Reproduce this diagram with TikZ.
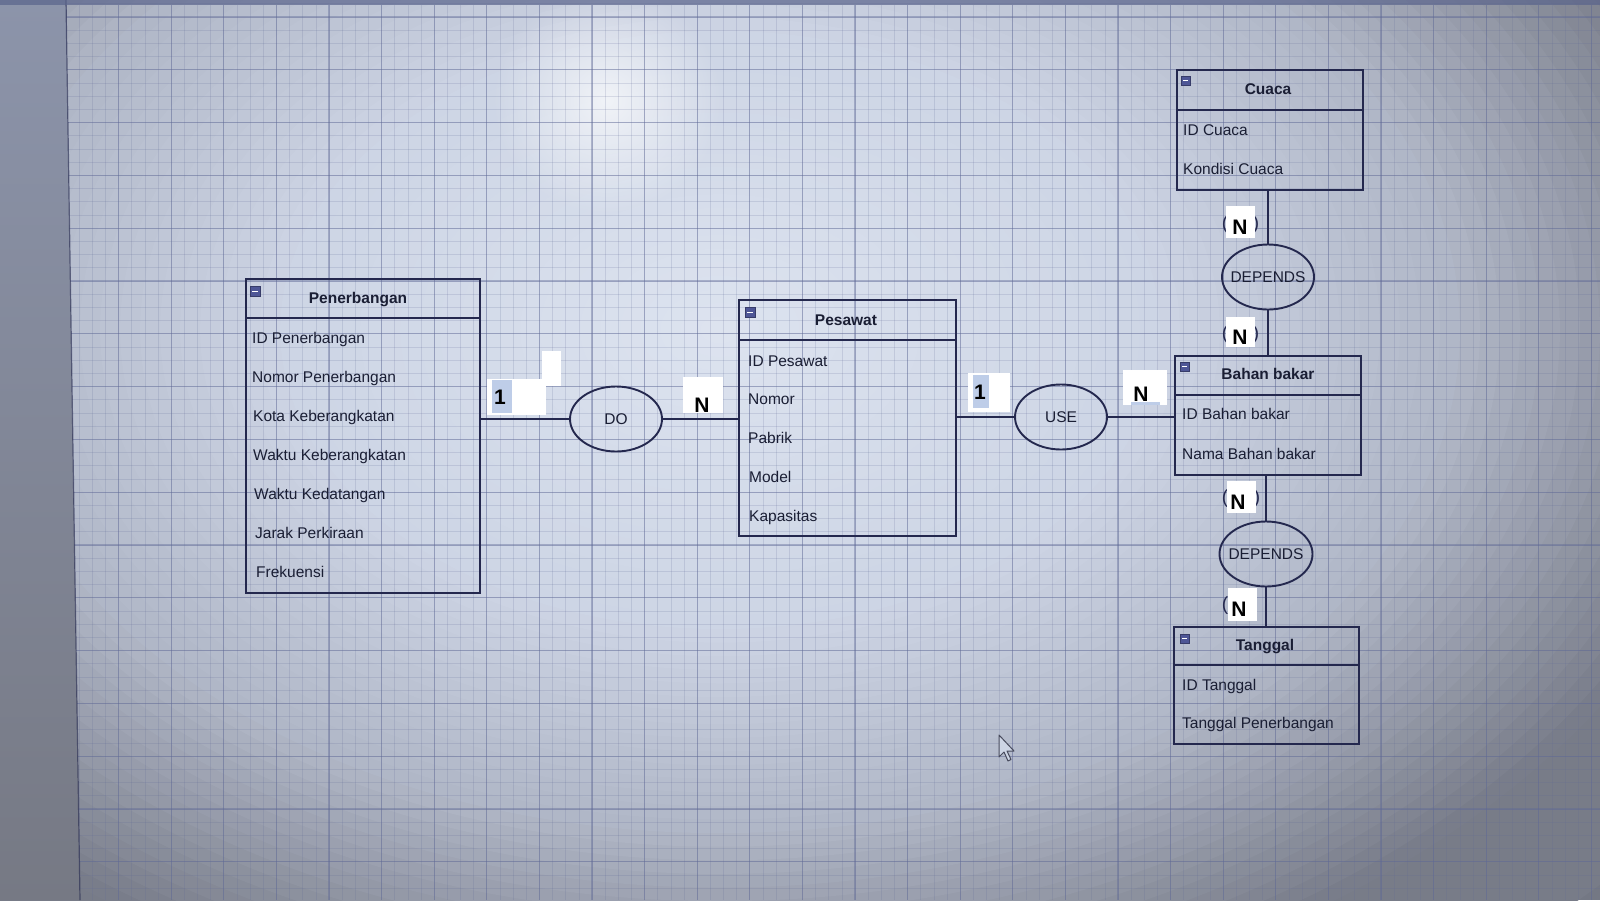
\documentclass[tikz,border=0pt]{standalone}
\usepackage{fontspec}
\setmainfont{Liberation Sans}
\usetikzlibrary{shapes.geometric,fadings}
\definecolor{ink}{RGB}{36,40,78}
\definecolor{txt}{RGB}{26,30,52}
\definecolor{gridc}{RGB}{95,105,150}
\definecolor{iconc}{RGB}{78,86,150}
\definecolor{tagbg}{RGB}{190,205,232}
\definecolor{stripT}{RGB}{140,148,170}
\definecolor{stripB}{RGB}{118,121,132}
\definecolor{topband}{RGB}{90,100,140}
\definecolor{cursorfill}{RGB}{205,213,229}
\definecolor{vdark}{RGB}{116,120,132}
\tikzfading[name=glow, inner color=transparent!0, outer color=transparent!100]
\tikzset{
  boxline/.style={draw=ink, line width=1.9pt},
  entity/.style={boxline, rectangle, inner sep=0pt, anchor=north west},
  rel/.style={boxline, ellipse, inner sep=0pt, minimum width=92pt, minimum height=65pt,
    font=\fontsize{15.5}{18}\selectfont, text=txt, text height=11pt, text depth=0pt},
  conn/.style={draw=ink, line width=1.9pt},
  title/.style={inner sep=0pt, font=\fontsize{15.5}{18}\selectfont\bfseries, text=txt,
    text height=11pt, text depth=0pt},
  attr/.style={inner sep=0pt, anchor=west, font=\fontsize{15.5}{18}\selectfont, text=txt,
    text height=11pt, text depth=0pt},
  card/.style={inner sep=0pt, font=\fontsize{21}{24}\selectfont\bfseries, text=black,
    text height=15pt, text depth=0pt},
  paren/.style={inner sep=0pt, font=\fontsize{19}{22}\selectfont, text=ink,
    text height=13pt, text depth=3pt},
  tagwhite/.style={fill=white},
  minorg/.style={draw=gridc, line width=0.7pt, opacity=0.18},
  majorg/.style={draw=gridc, line width=1.1pt, opacity=0.42},
  iconbox/.style={fill=iconc, draw=iconc!70!black, line width=0.6pt},
}
\begin{document}
\begin{tikzpicture}[x=1pt,y=-1pt]
\useasboundingbox (0,0) rectangle (1600,900);
% ---------- background (photo of a screen) ----------
\begin{scope}
\clip (0,0) rectangle (1600,900);
\fill[vdark] (0,0) rectangle (1600,900);
\foreach \k in {0,...,59}{
  \pgfmathsetmacro\rr{1.2-0.02*\k}
  \pgfmathtruncatemacro\R{\rr>=0.75 ? (176+(120-176)*min(1,(\rr-0.75)/0.3)) : (\rr>=0.45 ? (205+(176-205)*(\rr-0.45)/0.3) : (222+(205-222)*\rr/0.45))}
  \pgfmathtruncatemacro\G{\rr>=0.75 ? (182+(124-182)*min(1,(\rr-0.75)/0.3)) : (\rr>=0.45 ? (213+(182-213)*(\rr-0.45)/0.3) : (228+(213-228)*\rr/0.45))}
  \pgfmathtruncatemacro\B{\rr>=0.75 ? (198+(136-198)*min(1,(\rr-0.75)/0.3)) : (\rr>=0.45 ? (229+(198-229)*(\rr-0.45)/0.3) : (240+(229-240)*\rr/0.45))}
  \definecolor{vtmp}{RGB}{\R,\G,\B}
  \fill[vtmp] (720,330) ellipse ({1000*\rr} and {680*\rr});
}
\fill[white, opacity=0.7, path fading=glow] (607,100) circle (115);
% minor grid
\foreach \i in {0,...,117} \draw[minorg] ({66+13.15*\i},5) -- ({66+13.15*\i},900);
\foreach \j in {0,...,68} \draw[minorg] (66,{3.8+13.2*\j}) -- (1600,{3.8+13.2*\j});
% major grid
\foreach \i in {0,...,29} \draw[majorg] ({66+52.6*\i},5) -- ({66+52.6*\i},900);
\foreach \j in {0,...,16} \draw[majorg] (66,{17+52.8*\j}) -- (1600,{17+52.8*\j});
% left strip and top band
\shade[top color=stripT, bottom color=stripB] (0,0) -- (66,0) -- (80,900) -- (0,900) -- cycle;
\draw[ink, line width=1.2pt, opacity=0.6] (66,0) -- (80,900);
\fill[topband, opacity=0.7] (0,0) rectangle (1600,5);
\end{scope}

% ---------- entities ----------
% Penerbangan
\node[entity, minimum width=234pt, minimum height=314pt] (pen) at (245,278) {};
\draw[boxline] ([yshift=-40pt]pen.north west) -- ([yshift=-40pt]pen.north east);
\draw[iconbox] (250,286) rectangle (260,296);
\draw[white, line width=1pt] (252,291) -- (258,291);
\node[title] (penT) at (358,298) {Penerbangan};
\node[attr] (pen1) at (252,338) {ID Penerbangan};
\node[attr] (pen2) at (252,377) {Nomor Penerbangan};
\node[attr] (pen3) at (253,416) {Kota Keberangkatan};
\node[attr] (pen4) at (253,455) {Waktu Keberangkatan};
\node[attr] (pen5) at (254,494) {Waktu Kedatangan};
\node[attr] (pen6) at (255,533) {Jarak Perkiraan};
\node[attr] (pen7) at (256,572) {Frekuensi};

% Pesawat
\node[entity, minimum width=217pt, minimum height=236pt] (pes) at (738,299) {};
\draw[boxline] ([yshift=-41pt]pes.north west) -- ([yshift=-41pt]pes.north east);
\draw[iconbox] (745,307) rectangle (755,317);
\draw[white, line width=1pt] (747,312) -- (753,312);
\node[title] (pesT) at (846,320) {Pesawat};
\node[attr] (pes1) at (748,361) {ID Pesawat};
\node[attr] (pes2) at (748,399) {Nomor};
\node[attr] (pes3) at (748,438) {Pabrik};
\node[attr] (pes4) at (749,477) {Model};
\node[attr] (pes5) at (749,516) {Kapasitas};

% Cuaca
\node[entity, minimum width=186pt, minimum height=120pt] (cua) at (1176,69) {};
\draw[boxline] ([yshift=-41pt]cua.north west) -- ([yshift=-41pt]cua.north east);
\draw[iconbox] (1181,76) rectangle (1190,85);
\draw[white, line width=1pt] (1183,80.5) -- (1188,80.5);
\node[title] (cuaT) at (1268,89) {Cuaca};
\node[attr] (cua1) at (1183,130) {ID Cuaca};
\node[attr] (cua2) at (1183,169) {Kondisi Cuaca};

% Bahan bakar
\node[entity, minimum width=186pt, minimum height=119pt] (bah) at (1174,355) {};
\draw[boxline] ([yshift=-40pt]bah.north west) -- ([yshift=-40pt]bah.north east);
\draw[iconbox] (1180,362) rectangle (1189,371);
\draw[white, line width=1pt] (1182,366.5) -- (1187,366.5);
\node[title] (bahT) at (1268,374) {Bahan bakar};
\node[attr] (bah1) at (1182,414) {ID Bahan bakar};
\node[attr] (bah2) at (1182,454) {Nama Bahan bakar};

% Tanggal
\node[entity, minimum width=185pt, minimum height=117pt] (tan) at (1173,626) {};
\draw[boxline] ([yshift=-39pt]tan.north west) -- ([yshift=-39pt]tan.north east);
\draw[iconbox] (1180,634) rectangle (1189,643);
\draw[white, line width=1pt] (1182,638.5) -- (1187,638.5);
\node[title] (tanT) at (1265,645) {Tanggal};
\node[attr] (tan1) at (1182,685) {ID Tanggal};
\node[attr] (tan2) at (1182,723) {Tanggal Penerbangan};

% ---------- relationships ----------
\node[rel] (do)   at (616,419)  {\makebox[0pt]{DO}};
\node[rel] (use)  at (1061,417) {\makebox[0pt]{USE}};
\node[rel] (dep1) at (1268,277) {\makebox[0pt]{DEPENDS}};
\node[rel, minimum width=93pt] (dep2) at (1266,554) {\makebox[0pt]{DEPENDS}};

% ---------- connectors ----------
\draw[conn] (do.west -| pen.east) -- (do.west);
\draw[conn] (do.east) -- (do.east -| pes.west);
\draw[conn] (use.west -| pes.east) -- (use.west);
\draw[conn] (use.east) -- (use.east -| bah.west);
\draw[conn] (dep1.north |- cua.south) -- (dep1.north);
\draw[conn] (dep1.south) -- (dep1.south |- bah.north);
\draw[conn] (dep2.north |- bah.south) -- (dep2.north);
\draw[conn] (dep2.south) -- (dep2.south |- tan.north);

% ---------- cardinality tags ----------
% 1 near DO
\fill[tagwhite] (487,379) rectangle (546,415);
\fill[tagwhite] (542,351) rectangle (561,386);
\fill[tagbg] (492,380) rectangle (512,413);
\node[card] (c1) at (500,397) {1};
% N near DO
\fill[tagwhite] (683,377) rectangle (723,413);
\node[card] (c2) at (702,405) {N};
% 1 near USE
\fill[tagwhite] (968,373) rectangle (1010,412);
\fill[tagbg] (973,375) rectangle (989,408);
\node[card] (c3) at (980,392) {1};
% N near USE
\fill[tagwhite] (1123,370) rectangle (1167,405);
\fill[tagbg] (1131,402) rectangle (1160,405);
\node[card] (c4) at (1141,394) {N};
% N above DEPENDS 1
\node[paren] (p1a) at (1225,224) {(};
\node[paren] (p1b) at (1256,224) {)};
\fill[tagwhite] (1226,206) rectangle (1255,238);
\node[card] (c5) at (1240,227) {N};
% N below DEPENDS 1
\node[paren] (p2a) at (1225,334) {(};
\node[paren] (p2b) at (1256,334) {)};
\fill[tagwhite] (1226,317) rectangle (1255,347);
\node[card] (c6) at (1240,337) {N};
% N above DEPENDS 2
\node[paren] (p3a) at (1225,498) {(};
\node[paren] (p3b) at (1257,498) {)};
\fill[tagwhite] (1227,481) rectangle (1256,513);
\node[card] (c7) at (1238,502) {N};
% N below DEPENDS 2
\node[paren] (p4a) at (1225,605) {(};
\fill[tagwhite] (1228,588) rectangle (1257,621);
\node[card] (c8) at (1239,609) {N};

% ---------- mouse pointer ----------
\draw[fill=cursorfill, draw=txt!80, line width=1pt, line join=round]
  (999,735) -- (999,757) -- (1004,752) -- (1008,761) -- (1011,759.5) -- (1007,751) -- (1014,751) -- cycle;
\end{tikzpicture}
\end{document}
